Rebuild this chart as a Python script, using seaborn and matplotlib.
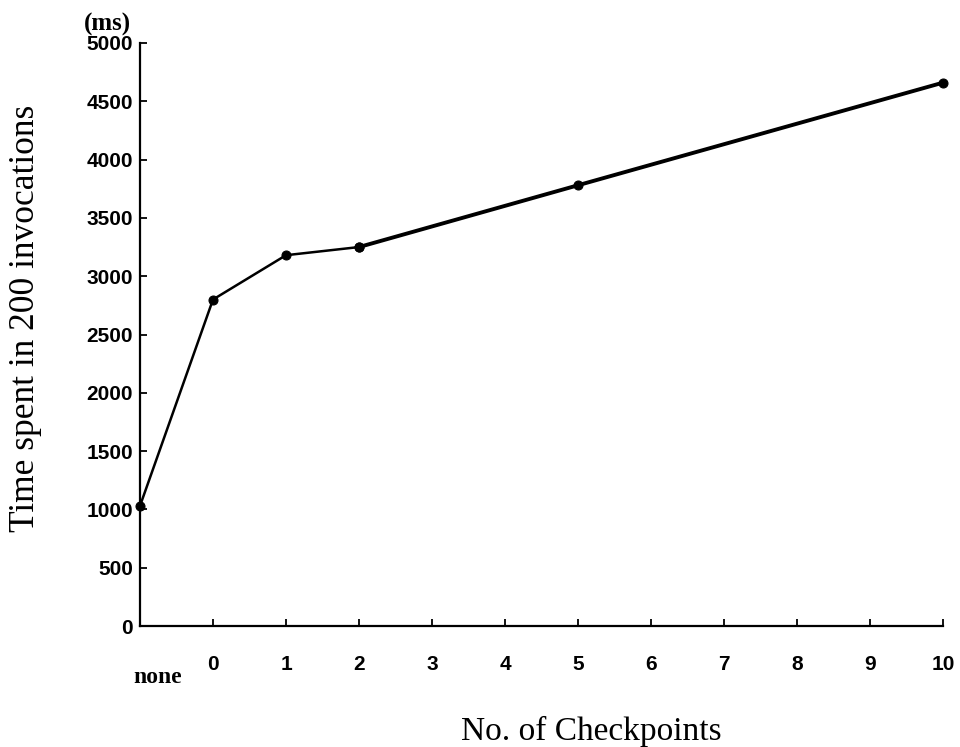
import matplotlib
matplotlib.use("Agg")
import matplotlib.pyplot as plt
import seaborn as sns
import pandas as pd

# data
checkpoint_labels = ["none", "0", "1", "2", "5", "10"]
checkpoint_pos = [-1, 0, 1, 2, 5, 10]
time_ms = [1030, 2800, 3180, 3250, 3780, 4660]
x_ticks = list(range(0, 11))
y_ticks = list(range(0, 5001, 500))

df = pd.DataFrame({"pos": checkpoint_pos, "time": time_ms, "label": checkpoint_labels})

sns.set_theme(style="ticks")
plt.rcParams["font.family"] = ["Liberation Sans", "DejaVu Sans"]
plt.rcParams["text.color"] = "black"

fig = plt.figure(figsize=(9.6, 7.47), dpi=100)
ax = fig.add_axes([140 / 960, 1 - 626 / 747, (943 - 140) / 960, (626 - 43) / 747])

first = df[df["pos"] <= 2]
second = df[df["pos"] >= 2]
sns.lineplot(data=first, x="pos", y="time", ax=ax, color="black", lw=1.8,
             marker="o", markersize=6.5, markeredgecolor="black", clip_on=False,
             zorder=4)
sns.lineplot(data=second, x="pos", y="time", ax=ax, color="black", lw=2.8,
             marker="o", markersize=6.5, markeredgecolor="black", clip_on=False,
             zorder=4)

ax.set_xlim(-1, 10)
ax.set_ylim(0, 5000)
ax.set_xticks(x_ticks)
ax.set_xticklabels([str(t) for t in x_ticks])
ax.set_yticks(y_ticks)
ax.set_yticklabels([str(t) for t in y_ticks])
ax.tick_params(axis="both", direction="in", length=5, width=1.3, colors="black",
               labelsize=15)
ax.tick_params(axis="x", pad=21)
ax.tick_params(axis="y", pad=5)
for lab in ax.get_xticklabels() + ax.get_yticklabels():
    lab.set_fontweight("bold")
ax.set_xlabel("")
ax.set_ylabel("")
sns.despine(ax=ax)
for s in ["left", "bottom"]:
    ax.spines[s].set_linewidth(1.6)
    ax.spines[s].set_color("black")

serif = ["Liberation Serif", "DejaVu Serif"]
ax.annotate("none", xy=(-1, 0), xycoords="data", xytext=(13, -37),
            textcoords="offset points", ha="center", va="center",
            fontsize=17, family=serif, fontweight="bold", color="black")
fig.text(107 / 960, 1 - 24 / 747, "(ms)", ha="center", va="center",
         fontsize=18, family=serif, fontweight="bold", color="black")
fig.text(26 / 960, 1 - 318 / 747, "Time spent in 200 invocations", rotation=90,
         ha="center", va="center", fontsize=25.5, family=serif, color="black")
fig.text(591 / 960, 1 - 731 / 747, "No. of Checkpoints", ha="center", va="center",
         fontsize=24, family=serif, color="black")

fig.savefig("out.png", dpi=100, facecolor="white")
